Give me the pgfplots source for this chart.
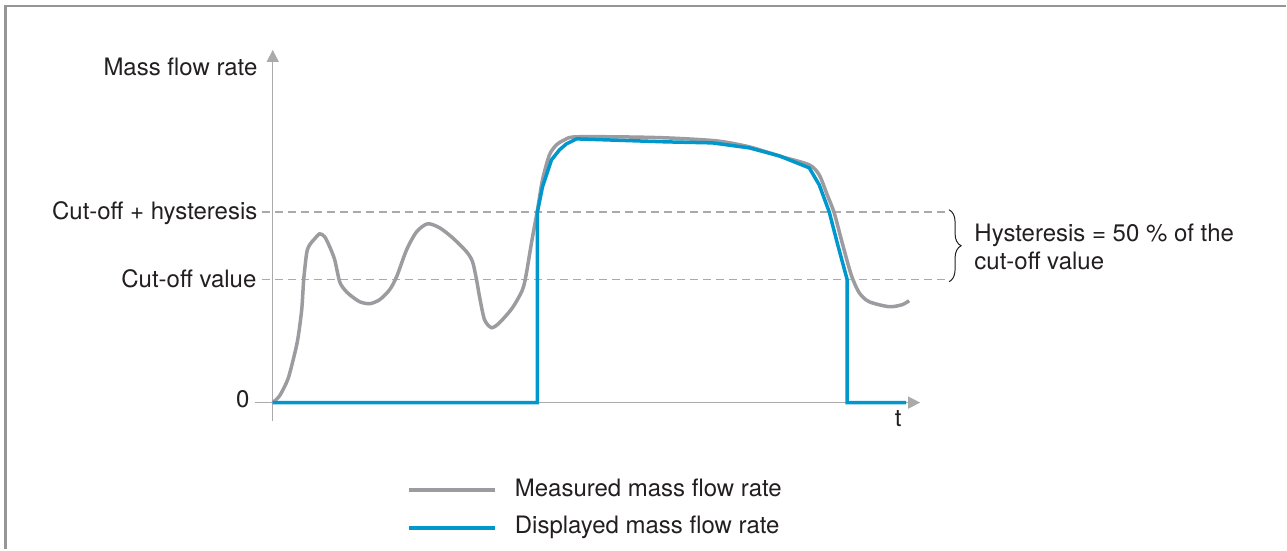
\documentclass[border=0pt]{standalone}
\usepackage{fontspec}
\setmainfont{TeX Gyre Heros}
\usepackage{pgfplots}
\pgfplotsset{compat=1.18}
\usetikzlibrary{arrows.meta,decorations.pathreplacing}
\definecolor{mgray}{RGB}{155,155,160}
\definecolor{dblue}{RGB}{0,152,204}
\definecolor{axgray}{RGB}{170,170,172}
\definecolor{brd}{RGB}{150,150,152}
\definecolor{txt}{RGB}{35,31,32}
\newcommand\f{\fontsize{12}{14}\selectfont}
\begin{document}
\begin{tikzpicture}
\begin{axis}[width=643.5pt,height=275pt,scale only axis,
  xmin=0,xmax=1287,ymin=0,ymax=550,hide axis,clip=false]
\path (axis cs:0,0) rectangle (axis cs:1287,550);
% border
\draw[brd,line width=1.25pt] (axis cs:5.5,0) -- (axis cs:5.5,544) -- (axis cs:1287,544);
% dashed reference lines
\draw[axgray,line width=0.75pt,dash pattern=on 4pt off 2.5pt] (axis cs:262,338) -- (axis cs:946,338);
\draw[axgray,line width=0.75pt,dash pattern=on 4pt off 2.5pt] (axis cs:262,270) -- (axis cs:946,270);
% axes
\draw[axgray,line width=0.75pt,-{Triangle[length=6pt,width=6pt]}] (axis cs:273,129) -- (axis cs:273,500);
\draw[axgray,line width=0.75pt,-{Triangle[length=6pt,width=6pt]}] (axis cs:255,147) -- (axis cs:921,147);
% measured
\addplot[mgray,line width=1.75pt,smooth,tension=0.45] coordinates {
(273,147)(280,154)(288,170)(293,188)(298,210)(302,240)(304,270)(307,297)(310,305)(315,311)(320,316)(325,313)(330,303)(335,290)(340,268)(345,260)(350,255)(360,248)(370,246)(380,250)(390,260)(397,273)(407,300)(417,318)(428,326)(440,322)(453,312)(467,298)(473,288)(477,270)(480,253)(485,230)(492,222)(500,227)(513,242)(523,260)(527,277)(532,307)(538,340)(543,370)(550,395)(557,405)(565,410)(575,413)(620,413)(667,412)(717,409)(750,403)(783,393)(810,385)(820,375)(828,355)(835,337)(843,307)(852,275)(860,257)(870,248)(890,243)(903,245)(910,249)
};
% displayed
\addplot[dblue,line width=1.75pt] coordinates {
(273,147)(538,147)(538,338)(543,363)(552,390)(560,400)(567,406)(577,411)(667,408)(713,407)(750,402)(780,394)(810,382)(820,365)(830,338)(838,307)(848,270)(848,147)(907,147)
};
% labels
\node[txt,anchor=base east,inner sep=0] at (axis cs:258,474) {\f Mass flow rate};
\node[txt,anchor=base east,inner sep=0] at (axis cs:258,330) {\f Cut-off + hysteresis};
\node[txt,anchor=base east,inner sep=0] at (axis cs:257,262) {\f Cut-off value};
\node[txt,anchor=base east,inner sep=0] at (axis cs:250,142) {\f 0};
\node[txt,anchor=base,inner sep=0] at (axis cs:899,123) {\f t};
% brace
\draw[txt,line width=0.5pt,decorate,decoration={brace,amplitude=6pt}] (axis cs:950,340) -- (axis cs:950,268);
\node[txt,anchor=base west,inner sep=0] at (axis cs:975,308) {\f Hysteresis = 50 \% of the};
\node[txt,anchor=base west,inner sep=0] at (axis cs:975,280) {\f cut-off value};
% legend
\addplot[mgray,line width=2pt] coordinates {(409,59.5)(495,59.5)};
\addplot[dblue,line width=2pt] coordinates {(409,21)(495,21)};
\node[txt,anchor=base west,inner sep=0] at (axis cs:515,53) {\f Measured mass flow rate};
\node[txt,anchor=base west,inner sep=0] at (axis cs:515,16) {\f Displayed mass flow rate};
\end{axis}
\end{tikzpicture}
\end{document}
